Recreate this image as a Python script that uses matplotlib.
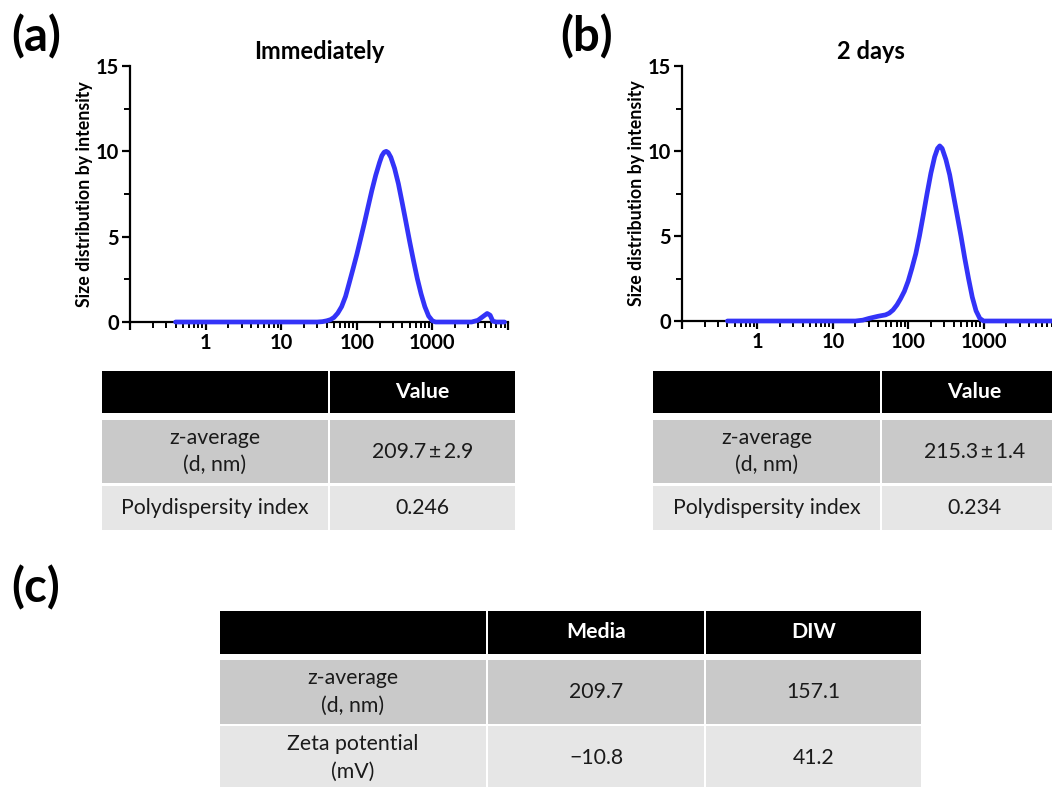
import numpy as np
import matplotlib.pyplot as plt
from matplotlib.patches import Rectangle
from matplotlib.ticker import FixedLocator, FixedFormatter

plt.rcParams['font.family'] = ['Lato', 'DejaVu Sans']

# size distribution by intensity
size_a = [0.4, 1, 10, 30, 35, 40, 45, 50, 56, 63, 71, 79, 89, 100, 112, 126,
          141, 158, 178, 200, 215, 230, 245, 260, 282, 316, 355, 398, 447, 501,
          562, 631, 708, 794, 891, 1000, 1100, 3300, 4000, 4600, 5300, 5800,
          6300, 7000, 9000]
intensity_a = [0, 0, 0, 0, 0.02, 0.07, 0.14, 0.27, 0.52, 0.9, 1.5, 2.25, 3.1,
               3.95, 4.85, 5.8, 6.75, 7.7, 8.6, 9.35, 9.75, 9.95, 10.0, 9.93,
               9.65, 9.0, 8.1, 7.0, 5.85, 4.7, 3.6, 2.55, 1.65, 0.9, 0.35,
               0.07, 0, 0, 0.1, 0.3, 0.5, 0.4, 0.05, 0, 0]

size_b = [0.4, 1, 10, 20, 25, 30, 35, 40, 50, 56, 63, 71, 79, 89, 100, 112,
          126, 141, 158, 178, 200, 224, 245, 262, 282, 316, 355, 398, 447, 501,
          562, 631, 708, 794, 891, 1000, 10000, 20000]
intensity_b = [0, 0, 0, 0, 0.05, 0.15, 0.22, 0.28, 0.36, 0.46, 0.65, 0.95,
               1.3, 1.75, 2.35, 3.1, 3.95, 5.0, 6.2, 7.5, 8.7, 9.65, 10.15,
               10.3, 10.15, 9.5, 8.6, 7.4, 6.2, 5.0, 3.7, 2.5, 1.4, 0.6, 0.15,
               0, 0, 0]

titles = ["Immediately", "2 days"]
x_major = [0.1, 1, 10, 100, 1000, 10000]
x_major_labels = ["", "1", "10", "100", "1000", ""]
y_major = [0, 5, 10, 15]
y_minor = [2.5, 7.5, 12.5]

# tables
header_ab = ["", "Value"]
rows_ab = ["z-average\n(d, nm)", "Polydispersity index"]
values_a = ["209.7\u2009\u00b1\u20092.9", "0.246"]
values_b = ["215.3\u2009\u00b1\u20091.4", "0.234"]

header_c = ["", "Media", "DIW"]
rows_c = ["z-average\n(d, nm)", "Zeta potential\n(mV)"]
media_c = ["209.7", "\u221210.8"]
diw_c = ["157.1", "41.2"]

BLUE = "#3333f8"
DARK_ROW = "#c9c9c9"
LIGHT_ROW = "#e6e6e6"
W, H = 1052, 787

fig = plt.figure(figsize=(W / 100, H / 100), dpi=100)


def px_axes(left, top, right, bottom):
    return fig.add_axes([left / W, 1 - bottom / H, (right - left) / W, (bottom - top) / H])


def plot_panel(ax, sizes, values, title):
    ax.plot(sizes, values, color=BLUE, lw=3.4, solid_capstyle="round",
            solid_joinstyle="round", clip_on=False, zorder=3)
    ax.set_xscale("log")
    ax.set_xlim(0.1, 10000)
    ax.set_ylim(0, 15)
    ax.xaxis.set_major_locator(FixedLocator(x_major))
    ax.xaxis.set_major_formatter(FixedFormatter(x_major_labels))
    minor = [m * 10.0 ** e for e in range(-1, 4) for m in range(2, 10)]
    ax.xaxis.set_minor_locator(FixedLocator(minor))
    ax.xaxis.set_minor_formatter(FixedFormatter([""] * len(minor)))
    ax.set_yticks(y_major)
    ax.set_yticks(y_minor, minor=True)
    for s in ("top", "right"):
        ax.spines[s].set_visible(False)
    for s in ("left", "bottom"):
        ax.spines[s].set_linewidth(1.6)
    ax.tick_params(which="major", length=6, width=1.6, direction="out",
                   labelsize=14.5)
    ax.tick_params(axis="x", which="major", pad=2)
    ax.tick_params(axis="y", which="major", pad=2)
    ax.tick_params(which="minor", length=4, width=1.4, direction="out")
    for lab in ax.get_xticklabels() + ax.get_yticklabels():
        lab.set_fontweight("bold")
    ax.set_ylabel("Size distribution by intensity", fontsize=12.8,
                  fontweight="bold", labelpad=2)
    ax.set_title(title, fontsize=17, fontweight="bold", pad=5)


ax_a = px_axes(130, 66, 508, 322)
plot_panel(ax_a, size_a, intensity_a, titles[0])
ax_b = px_axes(682, 66, 1059, 321)
plot_panel(ax_b, size_b, intensity_b, titles[1])

# overlay in pixel coordinates for tables and panel letters
ov = fig.add_axes([0, 0, 1, 1], zorder=-1)
ov.set_xlim(0, W)
ov.set_ylim(H, 0)
ov.axis("off")


def draw_table(x0, col_w, row_tops, row_h, header, columns):
    fills = ["black", DARK_ROW, LIGHT_ROW]
    xs = np.concatenate([[x0], x0 + np.cumsum(col_w)])
    for r in range(3):
        for c in range(len(col_w)):
            ov.add_patch(Rectangle((xs[c] + 1, row_tops[r]), col_w[c] - 2, row_h[r],
                                   facecolor=fills[r], edgecolor="none"))
            cx = (xs[c] + xs[c + 1]) / 2
            cy = row_tops[r] + row_h[r] / 2
            if r == 0:
                txt, kw = header[c], dict(color="white", fontweight="bold")
            else:
                txt, kw = columns[c][r - 1], dict(color="#1a1a1a")
            ov.text(cx, cy, txt, ha="center", va="center", fontsize=15.3,
                    linespacing=1.45, family=["Lato", "DejaVu Sans"], **kw)


draw_table(101, [228, 187], [371, 420, 486], [42, 63, 44], header_ab,
           [rows_ab, values_a])
draw_table(652, [229, 187], [371, 420, 486], [42, 63, 44], header_ab,
           [rows_ab, values_b])
draw_table(219, [268, 218, 217], [611, 660, 726], [43, 64, 64], header_c,
           [rows_c, media_c, diw_c])

for lbl, x, y in [("(a)", 11, 37), ("(b)", 560, 37), ("(c)", 11, 588)]:
    ov.text(x, y, lbl, fontsize=34, fontweight="bold", ha="left", va="center")

fig.savefig("out.png", dpi=100)
